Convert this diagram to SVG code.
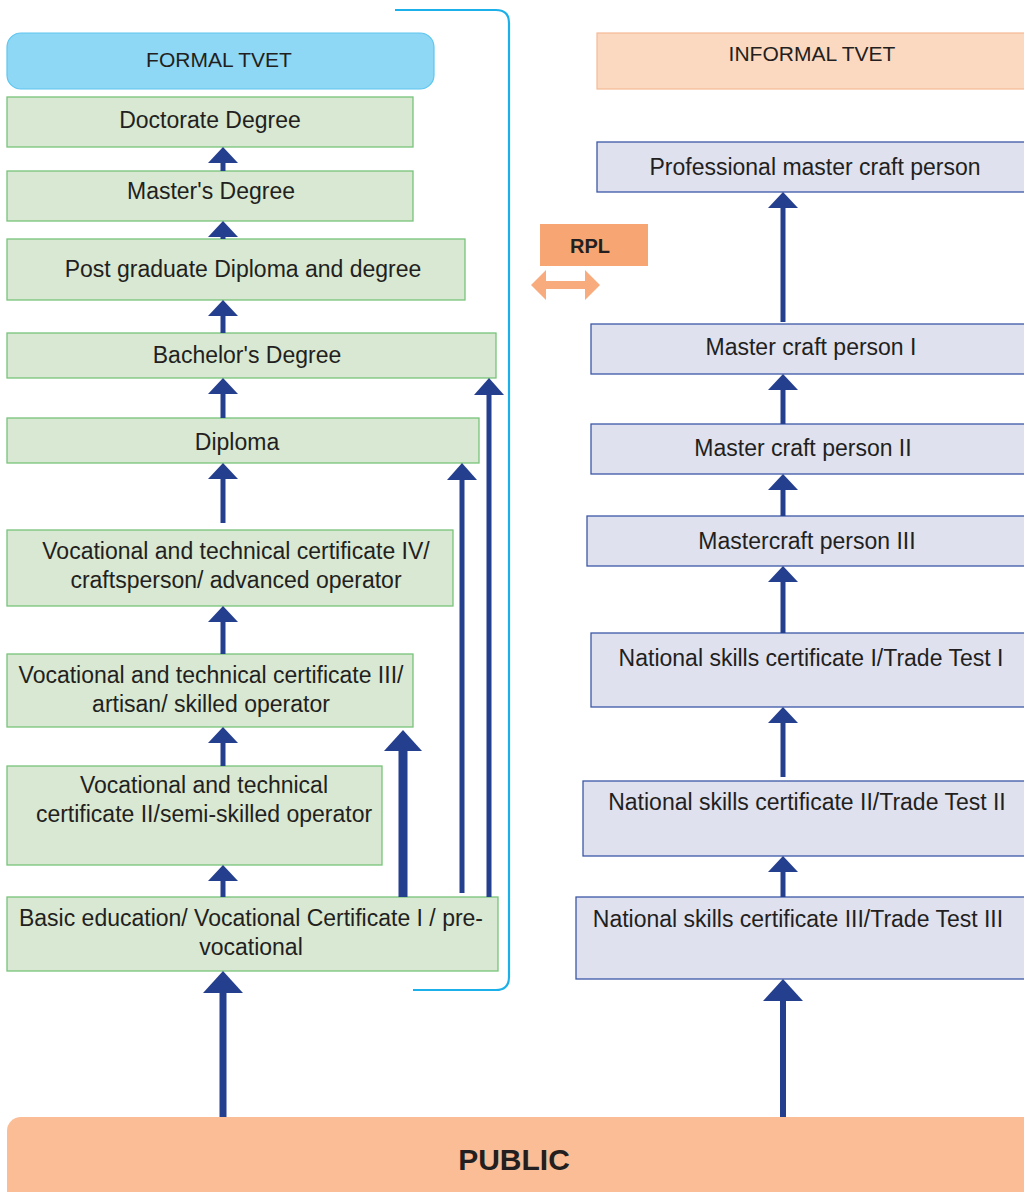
<svg xmlns="http://www.w3.org/2000/svg" width="1024" height="1192" viewBox="0 0 1024 1192">
  <style>
    .lbl { font-family: "Liberation Sans", Arial, sans-serif; font-size: 23px; fill: #231f20; text-anchor: middle; }
    .hdr { font-size: 21px; }
    .bold { font-weight: bold; }
    .formal { fill: #d8e8d2; stroke: #78c37a; stroke-width: 1.3; }
    .informal { fill: #dfe1ef; stroke: #3d57a6; stroke-width: 1.3; }
    .shaft { stroke: #253f8f; fill: none; }
    .head { fill: #253f8f; }
  </style>
  <rect width="1024" height="1192" fill="#ffffff"/>

  <!-- bracket around the formal track -->
  <path d="M395,10 H496 Q509,10 509,23 V977 Q509,990 496,990 H413" fill="none" stroke="#1bb0ea" stroke-width="2.2"/>

  <!-- headers -->
  <g id="formal-header">
    <rect x="7" y="33" width="427" height="56" rx="14" fill="#8ed8f6" stroke="#5ec6ef" stroke-width="1.2"/>
    <text class="lbl hdr" x="219" y="67">FORMAL TVET</text>
  </g>
  <g id="informal-header">
    <rect x="597" y="33" width="440" height="56" fill="#fbd9c1" stroke="#f5b995" stroke-width="1.2"/>
    <text class="lbl hdr" x="812" y="61">INFORMAL TVET</text>
  </g>

  <!-- formal nodes -->
  <g id="doctorate">
    <rect class="formal" x="7" y="97" width="406" height="50"/>
    <text class="lbl" x="210" y="128">Doctorate Degree</text>
  </g>
  <g id="masters">
    <rect class="formal" x="7" y="171" width="406" height="50"/>
    <text class="lbl" x="211" y="199">Master's Degree</text>
  </g>
  <g id="postgrad">
    <rect class="formal" x="7" y="239" width="458" height="61"/>
    <text class="lbl" x="243" y="277">Post graduate Diploma and degree</text>
  </g>
  <g id="bachelors">
    <rect class="formal" x="7" y="333" width="489" height="45"/>
    <text class="lbl" x="247" y="363">Bachelor's Degree</text>
  </g>
  <g id="diploma">
    <rect class="formal" x="7" y="418" width="472" height="45"/>
    <text class="lbl" x="237" y="450">Diploma</text>
  </g>
  <g id="cert-iv">
    <rect class="formal" x="7" y="530" width="446" height="76"/>
    <text class="lbl" x="236" y="559">Vocational and technical certificate IV/</text>
    <text class="lbl" x="236" y="588">craftsperson/ advanced operator</text>
  </g>
  <g id="cert-iii">
    <rect class="formal" x="7" y="654" width="406" height="73"/>
    <text class="lbl" x="211" y="683">Vocational and technical certificate III/</text>
    <text class="lbl" x="211" y="712">artisan/ skilled operator</text>
  </g>
  <g id="cert-ii">
    <rect class="formal" x="7" y="766" width="375" height="99"/>
    <text class="lbl" x="204" y="793">Vocational and technical</text>
    <text class="lbl" x="204" y="822">certificate II/semi-skilled operator</text>
  </g>
  <g id="basic">
    <rect class="formal" x="7" y="897" width="491" height="74"/>
    <text class="lbl" x="251" y="926">Basic education/ Vocational Certificate I / pre-</text>
    <text class="lbl" x="251" y="955">vocational</text>
  </g>

  <!-- informal nodes -->
  <g id="professional">
    <rect class="informal" x="597" y="142" width="440" height="50"/>
    <text class="lbl" x="815" y="175">Professional master craft person</text>
  </g>
  <g id="mcp-i">
    <rect class="informal" x="591" y="324" width="446" height="50"/>
    <text class="lbl" x="811" y="355">Master craft person I</text>
  </g>
  <g id="mcp-ii">
    <rect class="informal" x="591" y="424" width="446" height="50"/>
    <text class="lbl" x="803" y="456">Master craft person II</text>
  </g>
  <g id="mcp-iii">
    <rect class="informal" x="587" y="516" width="450" height="50"/>
    <text class="lbl" x="807" y="549">Mastercraft person III</text>
  </g>
  <g id="nsc-i">
    <rect class="informal" x="591" y="633" width="446" height="74"/>
    <text class="lbl" x="811" y="666">National skills certificate I/Trade Test I</text>
  </g>
  <g id="nsc-ii">
    <rect class="informal" x="583" y="781" width="454" height="75"/>
    <text class="lbl" x="807" y="810">National skills certificate II/Trade Test II</text>
  </g>
  <g id="nsc-iii">
    <rect class="informal" x="576" y="897" width="461" height="82"/>
    <text class="lbl" x="798" y="927">National skills certificate III/Trade Test III</text>
  </g>

  <!-- RPL -->
  <g id="rpl">
    <rect x="540" y="224" width="108" height="42" fill="#f7a572"/>
    <text class="lbl bold" x="590" y="253" style="font-size:20px">RPL</text>
    <path d="M531,285 L546,270 V281 H585 V270 L600,285 L585,300 V289 H546 V300 Z" fill="#f8ab7d"/>
  </g>

  <!-- public -->
  <g id="public">
    <rect x="7" y="1117" width="1040" height="90" rx="14" fill="#fabd96"/>
    <text class="lbl bold" x="514" y="1170" style="font-size:30px">PUBLIC</text>
  </g>

  <!-- connectors -->
  <g id="connectors">
    <!-- formal ladder -->
    <line class="shaft" x1="223" y1="171" x2="223" y2="160" stroke-width="5"/>
    <polygon class="head" points="223,147 208,163 238,163"/>
    <line class="shaft" x1="223" y1="239" x2="223" y2="234" stroke-width="5"/>
    <polygon class="head" points="223,221 208,237 238,237"/>
    <line class="shaft" x1="223" y1="333" x2="223" y2="312" stroke-width="5"/>
    <polygon class="head" points="223,300 208,316 238,316"/>
    <line class="shaft" x1="223" y1="418" x2="223" y2="390" stroke-width="5"/>
    <polygon class="head" points="223,378 208,394 238,394"/>
    <line class="shaft" x1="223" y1="523" x2="223" y2="475" stroke-width="5"/>
    <polygon class="head" points="223,463 208,479 238,479"/>
    <line class="shaft" x1="223" y1="654" x2="223" y2="618" stroke-width="5"/>
    <polygon class="head" points="223,606 208,622 238,622"/>
    <line class="shaft" x1="223" y1="766" x2="223" y2="739" stroke-width="5"/>
    <polygon class="head" points="223,727 208,743 238,743"/>
    <line class="shaft" x1="223" y1="897" x2="223" y2="877" stroke-width="5"/>
    <polygon class="head" points="223,865 208,881 238,881"/>
    <!-- skip routes from basic education -->
    <line class="shaft" x1="403" y1="897" x2="403" y2="745" stroke-width="9"/>
    <polygon class="head" points="403,730 384,751 422,751"/>
    <line class="shaft" x1="462" y1="893" x2="462" y2="475" stroke-width="5"/>
    <polygon class="head" points="462,463 447,480 477,480"/>
    <line class="shaft" x1="489" y1="897" x2="489" y2="390" stroke-width="5"/>
    <polygon class="head" points="489,378 474,395 504,395"/>
    <!-- public to basic -->
    <line class="shaft" x1="223" y1="1117" x2="223" y2="988" stroke-width="7"/>
    <polygon class="head" points="223,971 203,993 243,993"/>

    <!-- informal ladder -->
    <line class="shaft" x1="783" y1="322" x2="783" y2="203" stroke-width="5"/>
    <polygon class="head" points="783,192 768,208 798,208"/>
    <line class="shaft" x1="783" y1="424" x2="783" y2="386" stroke-width="5"/>
    <polygon class="head" points="783,374 768,390 798,390"/>
    <line class="shaft" x1="783" y1="516" x2="783" y2="486" stroke-width="5"/>
    <polygon class="head" points="783,474 768,490 798,490"/>
    <line class="shaft" x1="783" y1="633" x2="783" y2="578" stroke-width="5"/>
    <polygon class="head" points="783,566 768,582 798,582"/>
    <line class="shaft" x1="783" y1="777" x2="783" y2="719" stroke-width="5"/>
    <polygon class="head" points="783,707 768,723 798,723"/>
    <line class="shaft" x1="783" y1="897" x2="783" y2="868" stroke-width="5"/>
    <polygon class="head" points="783,856 768,872 798,872"/>
    <line class="shaft" x1="783" y1="1117" x2="783" y2="995" stroke-width="6"/>
    <polygon class="head" points="783,979 763,1001 803,1001"/>
  </g>
</svg>
